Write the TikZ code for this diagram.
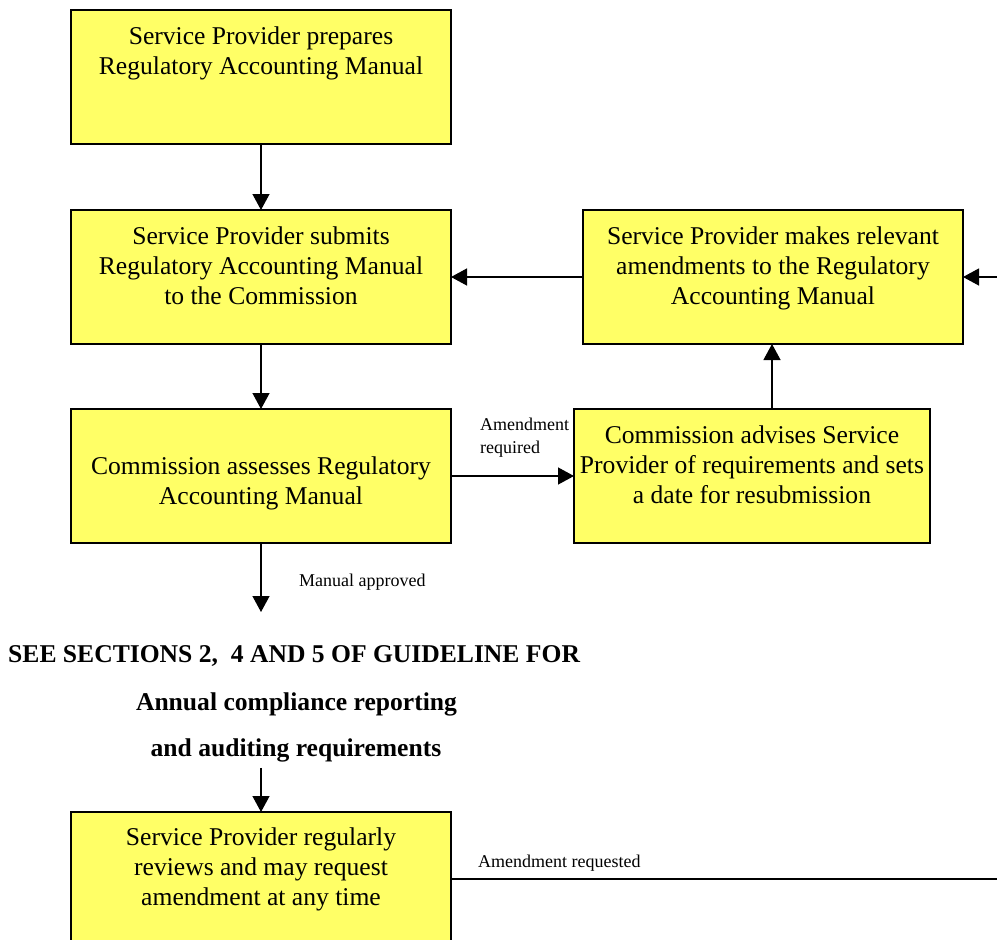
\documentclass[tikz,border=0pt]{standalone}
\usepackage{fontspec}
\setmainfont{Liberation Serif}
\usetikzlibrary{arrows.meta}
\definecolor{boxyellow}{HTML}{FFFF66}
\newcommand\bxt[4]{\parbox[c][#2pt][t]{#1pt}{\centering\rule{0pt}{#3pt}#4}}
\begin{document}
\begin{tikzpicture}[x=1pt,y=-1pt,
  box/.style={draw, fill=boxyellow, line width=1.3pt, inner sep=0pt, outer sep=0pt, anchor=north west, font=\fontsize{25.6}{30}\selectfont},
  arr/.style={line width=1.3pt, -{Triangle[length=16pt,width=17pt]}},
  conn/.style={line width=1.3pt},
  lbl/.style={inner sep=0pt, font=\fontsize{18}{23}\selectfont},
  head/.style={inner sep=0pt, font=\bfseries\fontsize{25.6}{30}\selectfont}]
\useasboundingbox (0,0) rectangle (997,940);
\clip (0,0) rectangle (997,940);

\node[box] (b1) at (71,10) {\bxt{380}{134}{34}{Service Provider prepares\\Regulatory Accounting Manual}};
\node[box] (b2) at (71,210) {\bxt{380}{134}{34}{Service Provider submits\\Regulatory Accounting Manual\\to the Commission}};
\node[box] (b3) at (71,409) {\bxt{380}{134}{65}{Commission assesses Regulatory\\Accounting Manual}};
\node[box] (b4) at (583,210) {\bxt{380}{134}{34}{Service Provider makes relevant\\amendments to the Regulatory\\Accounting Manual}};
\node[box] (b5) at (574,409) {\bxt{356}{134}{34}{Commission advises Service\\Provider of requirements and sets\\a date for resubmission}};
\node[box] (b6) at (71,812) {\bxt{380}{134}{33}{Service Provider regularly\\reviews and may request\\amendment at any time}};

\node[head, anchor=base west] (h1) at (8,662) {SEE SECTIONS 2,\ \ 4 AND 5 OF GUIDELINE FOR};
\node[head, anchor=base] (h2) at (296.5,710) {Annual compliance reporting};
\node[head, anchor=base, inner ysep=6pt] (h3) at (296,756) {and auditing requirements};

\node[lbl, anchor=north west, align=left] (l1) at (480,418) {Amendment\\required};
\node[lbl, anchor=base west] (l2) at (299,586) {Manual approved};
\node[lbl, anchor=base west] (l3) at (478,867) {Amendment requested};

\coordinate (ap) at (261,612);
\coordinate (re) at (997,277);
\coordinate (re2) at (997,879);
\coordinate (u1) at ([xshift=20pt]b5.north);

\draw[arr] (b1) -- (b2);
\draw[arr] (b2) -- (b3);
\draw[arr] (b3.south) -- (ap);
\draw[arr] (b3) -- (b5);
\draw[arr] (u1) -- (u1 |- b4.south);
\draw[arr] (b4) -- (b2);
\draw[arr] (re) -- (re -| b4.east);
\draw[arr] (h3.south -| b6.north) -- (b6.north);
\draw[conn] (b6.east) -- (b6.east -| re2);
\end{tikzpicture}
\end{document}
